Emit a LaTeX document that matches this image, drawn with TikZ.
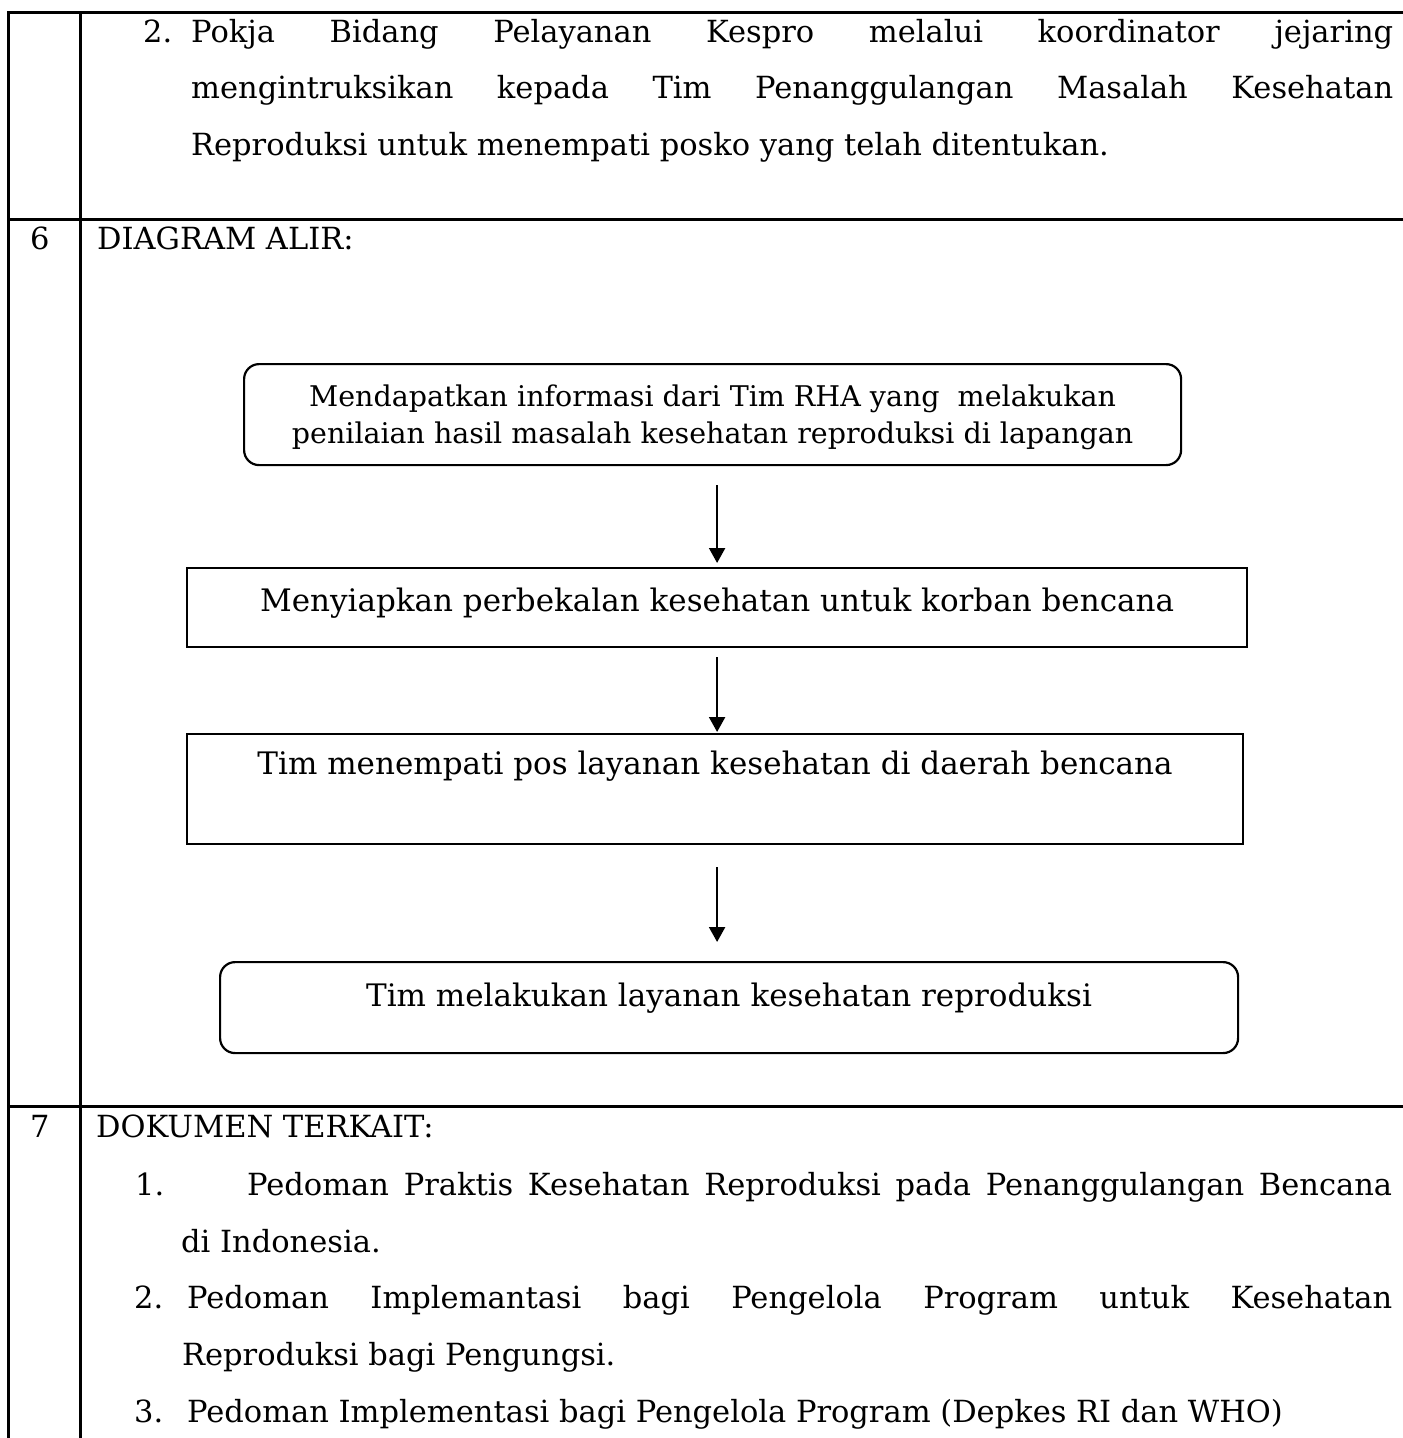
\documentclass[tikz,border=0pt]{standalone}
\usepackage{fontspec}
\setmainfont{DejaVu Serif}
\usetikzlibrary{arrows.meta}

\tikzset{
  tbl/.style={line width=3pt},
  stepbox/.style={draw, line width=2.2pt, inner sep=0pt, anchor=north west},
  roundbox/.style={stepbox, rounded corners=15pt},
  arr/.style={-{Triangle[width=16pt,length=15pt]}, line width=2.2pt},
  txt/.style={anchor=base west, inner sep=0pt},
  body/.style={font=\fontsize{30.5}{37}\selectfont},
  boxfont/.style={font=\fontsize{31}{37}\selectfont},
  smallbox/.style={font=\fontsize{28.5}{37}\selectfont},
}

% box content: width, height, distance from top to first baseline, text
\newcommand{\boxtext}[4]{\begin{minipage}[t][#2][t]{#1}\centering\rule{0pt}{#3}#4\end{minipage}}

\begin{document}
\begin{tikzpicture}[x=1pt,y=-1pt]
\useasboundingbox (0,0) rectangle (1403,1438);

% table rules
\draw[tbl] (1403,12) -- (8,12) -- (8,1438);
\draw[tbl] (80,12) -- (80,1438);
\draw[tbl] (8,219) -- (1403,219);
\draw[tbl] (8,1106) -- (1403,1106);

% item 2 of the previous row
\node[txt, body] (pnum) at (143,42) {2.};
\node[txt, body] (pl1) at (191,42) {\makebox[1202pt][s]{Pokja Bidang Pelayanan Kespro melalui koordinator jejaring}};
\node[txt, body] (pl2) at (191,98) {\makebox[1202pt][s]{mengintruksikan kepada Tim Penanggulangan Masalah Kesehatan}};
\node[txt, body] (pl3) at (191,155) {Reproduksi untuk menempati posko yang telah ditentukan.};

% row 6
\node[txt, body] (n6) at (30,249) {6};
\node[txt, body] (h6) at (97,249) {DIAGRAM ALIR:};

% flow chart
\node[roundbox, smallbox] (b1) at (243,363) {\boxtext{937pt}{101pt}{42pt}{Mendapatkan informasi dari Tim RHA yang\ \ melakukan\\penilaian hasil masalah kesehatan reproduksi di lapangan}};
\node[stepbox, boxfont] (b2) at (186,567) {\boxtext{1060pt}{79pt}{43pt}{Menyiapkan perbekalan kesehatan untuk korban bencana}};
\node[stepbox, boxfont] (b3) at (186,733) {\boxtext{1056pt}{110pt}{40pt}{Tim menempati pos layanan kesehatan di daerah bencana}};
\node[roundbox, boxfont] (b4) at (219,961) {\boxtext{1018pt}{91pt}{44pt}{Tim melakukan layanan kesehatan reproduksi}};

\draw[arr, shorten <=19pt, shorten >=4pt] (b2.north |- b1.south) -- (b2.north);
\draw[arr, shorten <=9pt, shorten >=1pt] (b2.south) -- (b2.south |- b3.north);
\draw[arr, shorten <=22pt, shorten >=19pt] (b3.south -| b2.south) -- (b2.south |- b4.north);

% row 7
\node[txt, body] (n7) at (30,1137) {7};
\node[txt, body] (h7) at (96,1137) {DOKUMEN TERKAIT:};
\node[txt, body] (d1n) at (135,1195) {1.};
\node[txt, body] (d1a) at (247,1195) {\makebox[1145pt][s]{Pedoman Praktis Kesehatan Reproduksi pada Penanggulangan Bencana}};
\node[txt, body] (d1b) at (181,1252) {di Indonesia.};
\node[txt, body] (d2n) at (134,1308) {2.};
\node[txt, body] (d2a) at (187,1308) {\makebox[1205pt][s]{Pedoman Implemantasi bagi Pengelola Program untuk Kesehatan}};
\node[txt, body] (d2b) at (182,1365) {Reproduksi bagi Pengungsi.};
\node[txt, body] (d3n) at (134,1422) {3.};
\node[txt, body] (d3a) at (187,1422) {Pedoman Implementasi bagi Pengelola Program (Depkes RI dan WHO)};
\end{tikzpicture}
\end{document}
